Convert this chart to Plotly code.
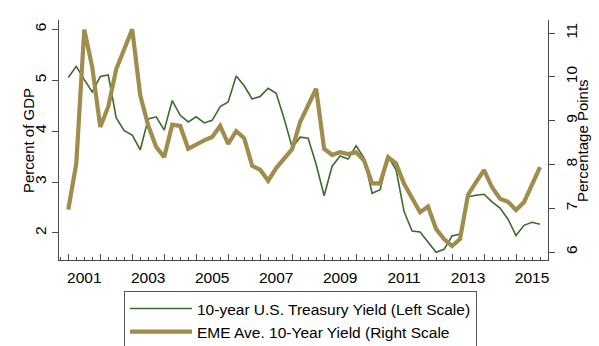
import plotly.graph_objects as go

# Quarterly observations, 2000Q3 through 2015Q2 (decimal-year positions)
quarters = [2000.5 + 0.25 * i for i in range(60)]

# 10-year U.S. Treasury yield, left scale
us_treasury = [
    5.05, 5.27, 5.01, 4.77, 5.07, 5.10, 4.26, 4.01, 3.92, 3.63,
    4.24, 4.28, 4.02, 4.60, 4.31, 4.18, 4.28, 4.16, 4.21, 4.48,
    4.57, 5.08, 4.89, 4.63, 4.68, 4.84, 4.74, 4.24, 3.68, 3.88,
    3.86, 3.35, 2.73, 3.31, 3.51, 3.45, 3.71, 3.47, 2.78, 2.85,
    3.50, 3.24, 2.42, 2.04, 2.02, 1.83, 1.62, 1.68, 1.94, 1.98,
    2.71, 2.74, 2.76, 2.61, 2.49, 2.27, 1.95, 2.15, 2.21, 2.17,
]

# EME average 10-year yield, right scale
eme_yield = [
    6.97, 8.02, 11.08, 10.22, 8.86, 9.32, 10.18, 10.64, 11.09, 9.58,
    8.89, 8.40, 8.17, 8.91, 8.88, 8.36, 8.46, 8.55, 8.63, 8.88,
    8.47, 8.76, 8.60, 7.97, 7.88, 7.63, 7.92, 8.12, 8.35, 8.97,
    9.37, 9.73, 8.36, 8.22, 8.28, 8.24, 8.28, 8.09, 7.57, 7.57,
    8.17, 8.02, 7.56, 7.25, 6.91, 7.04, 6.53, 6.30, 6.14, 6.30,
    7.31, 7.60, 7.87, 7.48, 7.22, 7.15, 6.96, 7.14, 7.54, 7.94,
]

year_labels = [2001, 2003, 2005, 2007, 2009, 2011, 2013, 2015]
half_year_ticks = [2000.5 + k for k in range(16)]
left_ticks = [2, 3, 4, 5, 6]
right_ticks = [6, 7, 8, 9, 10, 11]

GREEN = "#3c6b2c"
GOLD = "#a08c4c"
AXIS = "#4a4a4a"
FONT = "Liberation Sans, Arial, sans-serif"
x_range = [2000.21, 2015.5]

fig = go.Figure()
fig.add_trace(go.Scatter(
    x=quarters, y=us_treasury, mode="lines",
    name="10-year U.S. Treasury Yield (Left Scale)",
    line=dict(color=GREEN, width=1.6),
    xaxis="x", yaxis="y",
))
fig.add_trace(go.Scatter(
    x=quarters, y=eme_yield, mode="lines",
    name="EME Ave. 10-Year Yield (Right Scale",
    line=dict(color=GOLD, width=4.2),
    xaxis="x", yaxis="y2",
))
# empty trace that carries the overlay axis holding the yearly tick marks
fig.add_trace(go.Scatter(
    x=[], y=[], mode="lines", showlegend=False, hoverinfo="skip",
    xaxis="x2", yaxis="y",
))

# rotated axis titles
fig.add_annotation(text="Percent of GDP", textangle=-90, showarrow=False,
                   xref="paper", yref="paper", x=-0.0634, y=0.5,
                   xanchor="center", yanchor="middle", font=dict(size=15))
fig.add_annotation(text="Percentage Points", textangle=-90, showarrow=False,
                   xref="paper", yref="paper", x=1.0695, y=0.5,
                   xanchor="center", yanchor="middle", font=dict(size=15))

fig.update_layout(
    width=599, height=346,
    margin=dict(l=59, r=51, t=20, b=86, autoexpand=False),
    paper_bgcolor="white", plot_bgcolor="white",
    font=dict(family=FONT, size=15, color="black"),
    showlegend=True,
    legend=dict(
        xref="container", yref="container",
        x=0.207, y=0.159, xanchor="left", yanchor="top",
        orientation="v",
        bordercolor="#555555", borderwidth=1,
        font=dict(size=15.5, family=FONT),
        itemwidth=62, tracegroupgap=0,
        bgcolor="white",
    ),
    xaxis=dict(
        range=x_range, showgrid=False, zeroline=False,
        tickmode="array", tickvals=year_labels,
        ticktext=[str(y) for y in year_labels],
        ticks="", tickfont=dict(size=15.5), ticklabelstandoff=3,
        showline=True, linecolor=AXIS, linewidth=1.2,
        minor=dict(ticks="inside", tick0=2000.5, dtick=0.25,
                   ticklen=3, tickcolor=AXIS, tickwidth=1, showgrid=False),
    ),
    xaxis2=dict(
        range=x_range, overlaying="x", anchor="y", side="bottom",
        showgrid=False, zeroline=False, showline=False,
        tickmode="array", tickvals=half_year_ticks,
        ticks="inside", ticklen=6, tickcolor=AXIS, tickwidth=1,
        showticklabels=False,
    ),
    yaxis=dict(
        range=[1.47, 6.18], showgrid=False, zeroline=False,
        tickmode="array", tickvals=left_ticks,
        ticks="outside", ticklen=6, tickcolor=AXIS,
        tickangle=-90, tickfont=dict(size=15.5),
        showline=True, linecolor=AXIS, linewidth=1.2,
    ),
    yaxis2=dict(
        range=[5.82, 11.30], overlaying="y", side="right", anchor="x",
        showgrid=False, zeroline=False,
        tickmode="array", tickvals=right_ticks,
        ticks="outside", ticklen=6, tickcolor=AXIS,
        tickangle=-90, tickfont=dict(size=15.5), ticklabelstandoff=3,
        showline=True, linecolor=AXIS, linewidth=1.2,
    ),
)

fig.write_html("out.html")
